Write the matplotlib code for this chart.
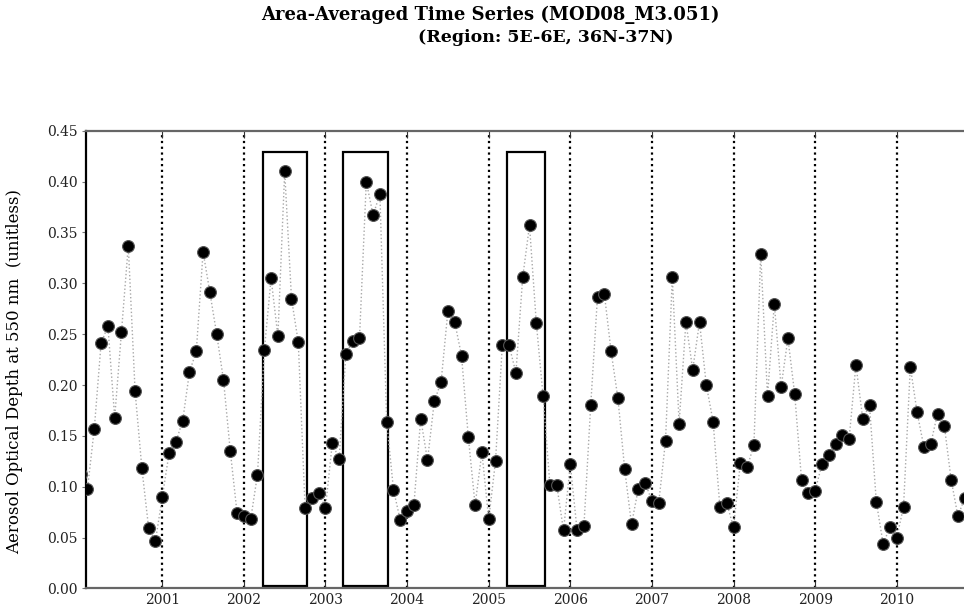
import matplotlib
matplotlib.use("Agg")
import matplotlib.pyplot as plt
from matplotlib.patches import Rectangle
import numpy as np

# monthly area-averaged AOD (550 nm), Jan 2000 .. Nov 2010
aod_2000 = [0.113, 0.098, 0.157, 0.241, 0.258, 0.168, 0.252, 0.337, 0.194, 0.118, 0.059, 0.047]
aod_2001 = [0.090, 0.133, 0.144, 0.165, 0.213, 0.233, 0.331, 0.291, 0.250, 0.205, 0.135, 0.074]
aod_2002 = [0.071, 0.068, 0.112, 0.234, 0.305, 0.248, 0.410, 0.285, 0.242, 0.079, 0.089, 0.094]
aod_2003 = [0.079, 0.143, 0.127, 0.231, 0.243, 0.246, 0.400, 0.367, 0.388, 0.164, 0.097, 0.067]
aod_2004 = [0.076, 0.082, 0.167, 0.126, 0.184, 0.203, 0.273, 0.262, 0.229, 0.149, 0.082, 0.134]
aod_2005 = [0.068, 0.125, 0.239, 0.239, 0.212, 0.306, 0.357, 0.261, 0.189, 0.102, 0.102, 0.057]
aod_2006 = [0.122, 0.057, 0.061, 0.180, 0.287, 0.290, 0.233, 0.187, 0.117, 0.063, 0.098, 0.104]
aod_2007 = [0.086, 0.084, 0.145, 0.306, 0.162, 0.262, 0.215, 0.262, 0.200, 0.164, 0.080, 0.084]
aod_2008 = [0.060, 0.123, 0.119, 0.141, 0.329, 0.189, 0.280, 0.198, 0.246, 0.191, 0.107, 0.094]
aod_2009 = [0.096, 0.122, 0.131, 0.142, 0.151, 0.147, 0.220, 0.167, 0.180, 0.085, 0.044, 0.060]
aod_2010 = [0.050, 0.080, 0.218, 0.173, 0.139, 0.142, 0.172, 0.160, 0.107, 0.071, 0.089]

start_year = 2000
year_lines = [2001, 2002, 2003, 2004, 2005, 2006, 2007, 2008, 2009, 2010]
year_labels = ['2001', '2002', '2003', '2004', '2005', '2006', '2007', '2008', '2009', '2010']
y_ticks = [0.00, 0.05, 0.10, 0.15, 0.20, 0.25, 0.30, 0.35, 0.40, 0.45]

aod = (aod_2000 + aod_2001 + aod_2002 + aod_2003 + aod_2004 + aod_2005
       + aod_2006 + aod_2007 + aod_2008 + aod_2009 + aod_2010)
t = start_year + np.arange(len(aod)) / 12.0

# highlighted periods (boxes drawn on the original chart)
boxes = [(2002.237, 2002.768), (2003.218, 2003.770), (2005.221, 2005.690)]

serif = 'DejaVu Serif'

fig = plt.figure(figsize=(9.64, 6.05), dpi=100)
ax = fig.add_axes([0.0892, 0.0274, 0.9144, 0.7564])

for yr in year_lines:
    ax.axvline(yr, color='black', linestyle=(0, (1, 1.6)), linewidth=1.6, zorder=1)

for x0, x1 in boxes:
    ax.add_patch(Rectangle((x0, 0.002), x1 - x0, 0.427, fill=False,
                           edgecolor='black', linewidth=1.6, zorder=2))

ax.plot(t, aod, color='#a8a8a8', linestyle=':', linewidth=1.0, zorder=3)
ax.plot(t, aod, linestyle='none', marker='o', markersize=8.5,
        markerfacecolor='black', markeredgecolor='#555555', markeredgewidth=0.8, zorder=4)

ax.set_xlim(2000.065, 2010.867)
ax.set_ylim(0, 0.45)
ax.set_xticks(year_lines)
ax.set_xticklabels(year_labels, family=serif, fontsize=10, color='#222222')
ax.set_yticks(y_ticks)
ax.set_yticklabels(['%.2f' % v for v in y_ticks], family=serif, fontsize=10, color='#222222')
ax.tick_params(axis='x', direction='in', top=True, length=5, pad=3, color='#333333')
ax.tick_params(axis='y', direction='out', right=False, length=3, pad=3, color='#777777')

for side in ['top', 'bottom', 'right']:
    ax.spines[side].set_color('#666666')
    ax.spines[side].set_linewidth(1.6)
ax.spines['left'].set_color('black')
ax.spines['left'].set_linewidth(1.6)

ax.set_ylabel('Aerosol Optical Depth at 550 nm  (unitless)', family=serif, fontsize=12)
ax.yaxis.set_label_coords(-0.071, 0.474)

fig.text(0.509, 1 - 15 / 605, 'Area-Averaged Time Series (MOD08_M3.051)',
         ha='center', va='center', family=serif, fontsize=13, fontweight='bold')
fig.text(0.566, 1 - 37 / 605, '(Region: 5E-6E, 36N-37N)',
         ha='center', va='center', family=serif, fontsize=12.5, fontweight='bold')

fig.savefig('out.png', dpi=100)
